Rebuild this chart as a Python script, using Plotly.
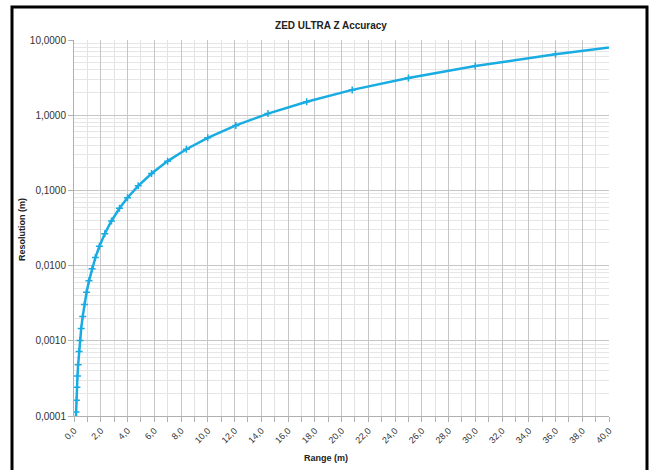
import plotly.graph_objects as go

# Data (range in m, resolution in m)
range_m = [0.125, 0.15, 0.18, 0.22, 0.26, 0.31, 0.38, 0.45, 0.54, 0.65, 0.78, 0.94,
           1.12, 1.35, 1.6, 1.9, 2.3, 2.8, 3.4, 4.0, 4.8, 5.8, 7.0, 8.4, 10.0, 12.1,
           14.5, 17.4, 20.8, 25.0, 30.0, 36.0, 43.2]
resolution_m = [0.000078, 0.000113, 0.000162, 0.000242, 0.00034, 0.00048, 0.00072,
                0.00101, 0.00146, 0.00211, 0.00304, 0.00442, 0.00627, 0.0091, 0.0128,
                0.0181, 0.0265, 0.0392, 0.0578, 0.080, 0.115, 0.168, 0.245, 0.353,
                0.50, 0.732, 1.05, 1.51, 2.17, 3.125, 4.50, 6.48, 9.33]

y_tickvals = [0.0001, 0.001, 0.01, 0.1, 1, 10]
y_ticktext = ["0,0001", "0,0010", "0,0100", "0,1000", "1,0000", "10,0000"]
x_tickvals = list(range(0, 41, 2))
x_ticktext = [f"{v},0" for v in x_tickvals]

y_minor = []
for dec in [0.0001, 0.001, 0.01, 0.1, 1]:
    for m in range(2, 10):
        y_minor.append(dec * m)

fig = go.Figure()
fig.add_trace(go.Scatter(
    x=range_m, y=resolution_m, mode="lines+markers",
    line=dict(color="#19ace3", width=2.5),
    marker=dict(symbol="cross-thin", size=5, color="#19ace3",
                line=dict(color="#19ace3", width=1.5)),
    showlegend=False,
))

font_family = "Liberation Sans, Arial, sans-serif"

fig.update_layout(
    width=650, height=470,
    margin=dict(l=74, r=41, t=40, b=54),
    paper_bgcolor="white", plot_bgcolor="white",
    font=dict(family=font_family, size=10, color="#333333"),
    title=dict(text="<b>ZED ULTRA Z Accuracy</b>", x=(331 - 74) / 535, xref="paper",
               xanchor="center", y=1 - 25 / 470, yanchor="middle",
               font=dict(family=font_family, size=10, color="#222222")),
    xaxis=dict(
        range=[0, 40], tickvals=x_tickvals, ticktext=x_ticktext, tickangle=-45,
        showgrid=True, gridcolor="#c6c6c6", gridwidth=1,
        ticks="outside", ticklen=5, tickcolor="#b0b0b0",
        showline=True, linecolor="#b0b0b0", linewidth=1,
        zeroline=False, tickfont=dict(size=9, color="#333333"),
        minor=dict(tickvals=list(range(1, 40, 2)), showgrid=True, gridcolor="#e2e2e2",
                   ticks="outside", ticklen=5, tickcolor="#b0b0b0"),
    ),
    yaxis=dict(
        type="log", range=[-4, 1], tickvals=y_tickvals, ticktext=y_ticktext,
        showgrid=True, gridcolor="#c6c6c6", gridwidth=1,
        ticks="outside", ticklen=5, tickcolor="#b0b0b0",
        showline=True, linecolor="#b0b0b0", linewidth=1,
        zeroline=False, tickfont=dict(size=10, color="#333333"),
        minor=dict(tickvals=y_minor, showgrid=True, gridcolor="#e6e6e6", ticks=""),
    ),
    annotations=[
        dict(text="<b>Range (m)</b>", xref="paper", yref="paper",
             x=(326 - 74) / 535, y=(416 - 458) / 376, xanchor="center", yanchor="middle",
             showarrow=False, font=dict(family=font_family, size=9, color="#222222")),
        dict(text="<b>Resolution (m)</b>", xref="paper", yref="paper",
             x=(22 - 74) / 535, y=(416 - 230) / 376, xanchor="center", yanchor="middle",
             textangle=-90, showarrow=False,
             font=dict(family=font_family, size=9, color="#222222")),
    ],
    shapes=[
        dict(type="rect", xref="paper", yref="paper",
             x0=(12 - 74) / 535, x1=(647 - 74) / 535,
             y0=(416 - 480) / 376, y1=(416 - 7) / 376,
             line=dict(color="black", width=3), fillcolor="rgba(0,0,0,0)", layer="above"),
    ],
)

fig.write_html("out.html", config={"displayModeBar": False},
               post_script="document.body.style.margin='0';document.body.style.overflow='hidden';")
